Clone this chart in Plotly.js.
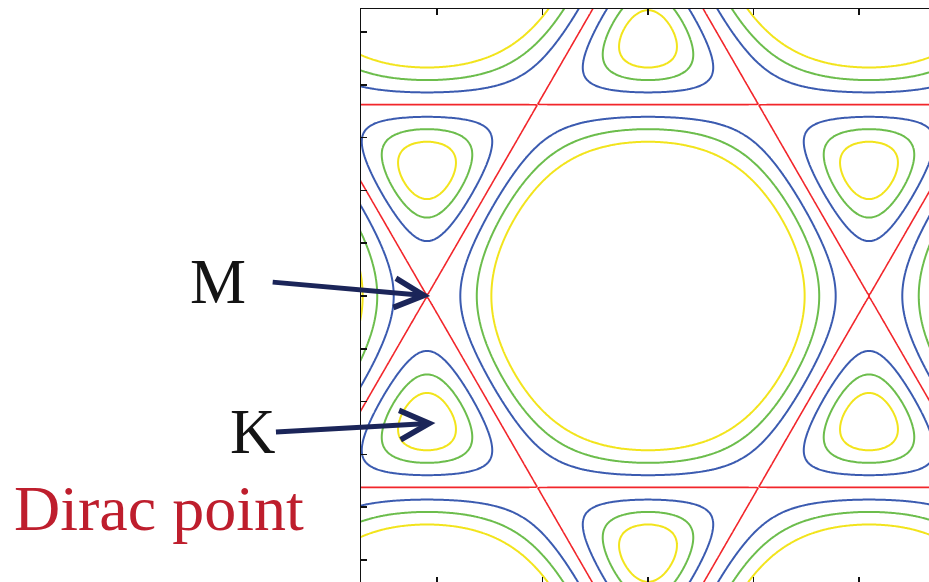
<!DOCTYPE html>
<html>
<head>
<meta charset="utf-8">
<script src="https://cdn.plot.ly/plotly-3.0.1.min.js"></script>
<style>
  html, body { margin: 0; padding: 0; background: #ffffff; overflow: hidden; }
  #chart { width: 940px; height: 592px; }
</style>
</head>
<body>
<div id="chart"></div>
<script>
// Graphene nearest-neighbour tight-binding band |f(k)| (units of t), C-C distance = 1.
// Energy levels drawn as iso-contours and their colours.
const levels      = [0.4, 0.6, 0.8, 1.0, 1.2, 1.4, 1.6];
const levelColors = ['#f2e41c', '#6cbd4c', '#3b5bb0', '#f2262b', '#3b5bb0', '#6cbd4c', '#f2e41c'];
const levelWidths = [2, 2, 2, 1.6, 2, 2, 2];

// Axis ticks (k in 1/a_cc)
const xTicks = [-2, -1, 0, 1, 2];
const yTicks = [-2.5, -2, -1.5, -1, -0.5, 0, 0.5, 1, 1.5, 2, 2.5];
const kRange = [-2.72, 2.72];

// Labels
const pointLabels = ['M', 'K'];
const labelText = 'Dirac point';

// Lattice vectors of the honeycomb lattice (|a| = sqrt(3) a_cc)
const s3 = Math.sqrt(3);
const a1 = [0, s3];
const a2 = [1.5, s3 / 2];
const a3 = [1.5, -s3 / 2];

function bandMagnitude(kx, ky) {
  const p1 = kx * a1[0] + ky * a1[1];
  const p2 = kx * a2[0] + ky * a2[1];
  const p3 = kx * a3[0] + ky * a3[1];
  const f2 = 3 + 2 * Math.cos(p1) + 2 * Math.cos(p2) + 2 * Math.cos(p3);
  return Math.sqrt(Math.max(f2, 0));
}

// Sampling grid over the plotted window
const N = 361;
const kmin = -2.9, kmax = 2.9;
const kGrid = [];
for (let i = 0; i < N; i++) kGrid.push(kmin + (kmax - kmin) * i / (N - 1));
const z = kGrid.map(ky => kGrid.map(kx => bandMagnitude(kx, ky)));

const traces = levels.map((L, i) => ({
  type: 'contour',
  x: kGrid,
  y: kGrid,
  z: z,
  autocontour: false,
  contours: { start: L, end: L, size: 1, coloring: 'none', showlabels: false },
  line: { color: levelColors[i], width: levelWidths[i], smoothing: 0.6 },
  showscale: false,
  hoverinfo: 'skip'
}));

// High-symmetry points: M on the kx axis, K at the zone corner
const ΓM = 2 * Math.PI / 3;
const ΓK = 4 * Math.PI / (3 * s3);
const headX = [-ΓM + 0.03, -ΓK * Math.cos(Math.PI / 6) + 0.08];
const headY = [0, -ΓK * Math.sin(Math.PI / 6) + 0.005];
const tailDX = [-159, -161];
const tailDY = [-14, 9];

// plot-area pixel → paper helpers (plot area 361..935 x 9..583)
const px = v => (v - 361) / 574;
const py = v => (583 - v) / 574;

const arrowColor = '#1b2559';
const serif = 'Liberation Serif, Times New Roman, serif';

const annotations = [];
pointLabels.forEach((lab, i) => {
  annotations.push({
    x: headX[i], y: headY[i], xref: 'x', yref: 'y',
    text: '', showarrow: true,
    ax: tailDX[i], ay: tailDY[i], axref: 'pixel', ayref: 'pixel',
    arrowhead: 5, arrowsize: 1.15, arrowwidth: 5, arrowcolor: arrowColor
  });
});
annotations.push({
  x: px(218), y: py(282), xref: 'paper', yref: 'paper',
  text: pointLabels[0], showarrow: false, xanchor: 'center', yanchor: 'middle',
  font: { family: serif, size: 63, color: '#141414' }
});
annotations.push({
  x: px(253), y: py(432), xref: 'paper', yref: 'paper',
  text: pointLabels[1], showarrow: false, xanchor: 'center', yanchor: 'middle',
  font: { family: serif, size: 63, color: '#141414' }
});
annotations.push({
  x: px(12), y: py(508), xref: 'paper', yref: 'paper',
  text: labelText, showarrow: false, xanchor: 'left', yanchor: 'middle',
  font: { family: serif, size: 64, color: '#be1e2d' }
});

const axisCommon = {
  range: kRange,
  showgrid: false,
  zeroline: false,
  showticklabels: false,
  ticks: 'inside',
  ticklen: 6,
  tickwidth: 1.5,
  tickcolor: '#111111',
  showline: true,
  linecolor: '#111111',
  linewidth: 1.5,
  mirror: 'ticks'
};

const layout = {
  width: 940,
  height: 592,
  margin: { l: 361, r: 5, t: 9, b: 9, pad: 0 },
  paper_bgcolor: '#ffffff',
  plot_bgcolor: '#ffffff',
  showlegend: false,
  xaxis: Object.assign({}, axisCommon, { tickmode: 'array', tickvals: xTicks }),
  yaxis: Object.assign({}, axisCommon, { tickmode: 'array', tickvals: yTicks }),
  annotations: annotations
};

Plotly.newPlot('chart', traces, layout, { displayModeBar: false, staticPlot: true });
</script>
</body>
</html>
